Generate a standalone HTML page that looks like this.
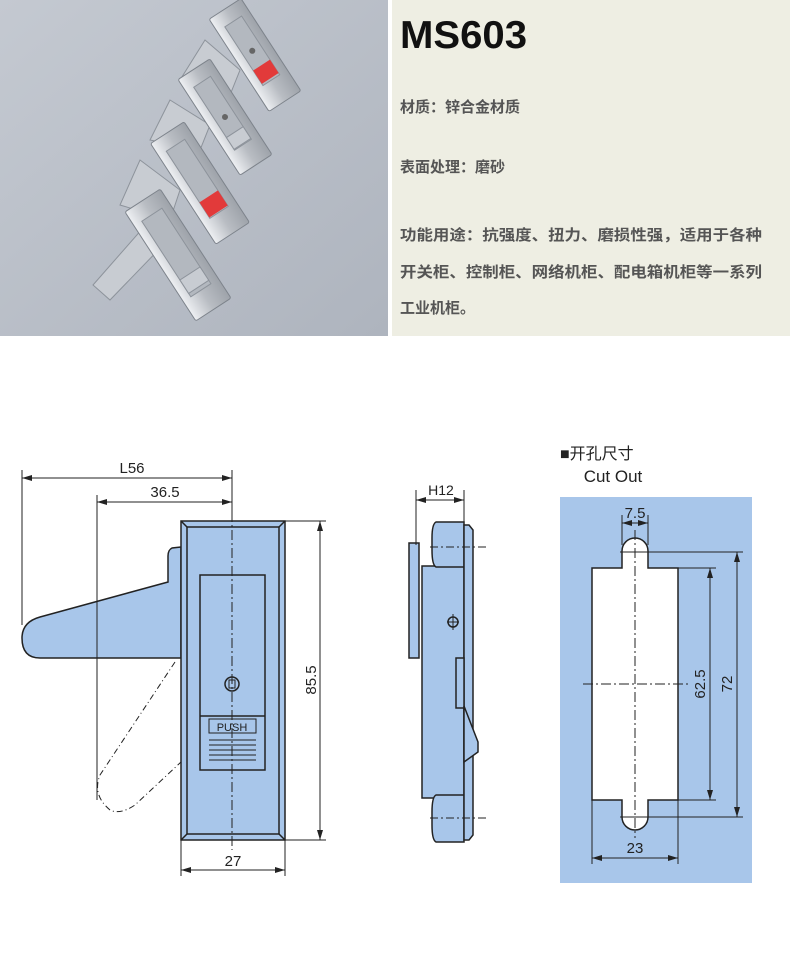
<!DOCTYPE html>
<html><head><meta charset="utf-8"><style>
html,body{margin:0;padding:0;background:#fff}
svg{display:block}
text{font-family:"Liberation Sans","Noto Sans CJK SC",sans-serif}
</style></head><body>
<svg width="790" height="954" viewBox="0 0 790 954" xmlns="http://www.w3.org/2000/svg">
<defs>
<linearGradient id="bg" x1="0" y1="0" x2="1" y2="1">
<stop offset="0" stop-color="#c4c9d1"/><stop offset="1" stop-color="#aeb4be"/></linearGradient>
<linearGradient id="met" x1="0" y1="0" x2="1" y2="0">
<stop offset="0" stop-color="#eef0f3"/><stop offset="0.5" stop-color="#b9bdc3"/><stop offset="1" stop-color="#9ea3aa"/></linearGradient>
<marker id="a" viewBox="0 0 10 6" refX="10" refY="3" markerWidth="10" markerHeight="6" orient="auto-start-reverse"><path d="M0,0L10,3L0,6z" fill="#222"/></marker>
</defs>
<rect x="0" y="0" width="388" height="336" fill="url(#bg)"/>
<g fill="#c8ccd2" stroke="#8d939b" stroke-width="1">
<polygon points="205,40 240,70 230,95 180,80"/>
<polygon points="170,100 210,125 200,150 150,140"/>
<polygon points="140,160 180,190 170,220 120,205"/>
<polygon points="93,285 150,220 168,240 110,300"/>
</g>
<g transform="translate(255,55) rotate(-33)"><rect x="-19" y="-55" width="38" height="110" rx="2" fill="url(#met)" stroke="#7d838b"/><rect x="-10" y="-40" width="20" height="70" fill="#b3b8bf" stroke="#8d939b"/><rect x="-10" y="12" width="20" height="16" fill="#e23a3a"/><circle cx="0" cy="-5" r="3" fill="#666"/></g>
<g transform="translate(225,117) rotate(-33)"><rect x="-19" y="-57" width="38" height="114" rx="2" fill="url(#met)" stroke="#7d838b"/><rect x="-10" y="-42" width="20" height="75" fill="#b3b8bf" stroke="#8d939b"/><rect x="-10" y="18" width="20" height="14" fill="#c8ccd2" stroke="#8d939b"/><circle cx="0" cy="0" r="3" fill="#666"/></g>
<g transform="translate(200,183) rotate(-33)"><rect x="-20" y="-60" width="40" height="120" rx="2" fill="url(#met)" stroke="#7d838b"/><rect x="-11" y="-45" width="22" height="80" fill="#b3b8bf" stroke="#8d939b"/><rect x="-11" y="16" width="22" height="18" fill="#e23a3a"/></g>
<g transform="translate(178,255) rotate(-33)"><rect x="-21" y="-65" width="42" height="130" rx="2" fill="url(#met)" stroke="#7d838b"/><rect x="-12" y="-48" width="24" height="90" fill="#b3b8bf" stroke="#8d939b"/><rect x="-12" y="22" width="24" height="16" fill="#c8ccd2" stroke="#8d939b"/></g>
<rect x="392" y="0" width="398" height="336" fill="#eeeee3"/>
<text x="400" y="48" font-size="39" font-weight="bold" fill="#111" textLength="127" lengthAdjust="spacingAndGlyphs">MS603</text>
<g font-size="15" fill="#555" font-weight="bold">
<text x="400" y="112">材质：锌合金材质</text>
<text x="400" y="172">表面处理：磨砂</text>
<text x="400" y="240" textLength="362" lengthAdjust="spacingAndGlyphs">功能用途：抗强度、扭力、磨损性强，适用于各种</text>
<text x="400" y="277" textLength="362" lengthAdjust="spacingAndGlyphs">开关柜、控制柜、网络机柜、配电箱机柜等一系列</text>
<text x="400" y="313">工业机柜。</text>
</g>
<g stroke="#222" stroke-width="1.5" fill="#a8c6ea">
<path d="M181,547 L172,548 Q168,550 168,556 L168,582 L40,617 Q22,622 22,638 Q22,658 40,658 L181,658 Z"/>
<rect x="181" y="521" width="104" height="319"/>
<rect x="187" y="527" width="92" height="307" fill="none"/>
<path d="M181,521L187,527M285,521L279,527M181,840L187,834M285,840L279,834" fill="none"/>
<rect x="200" y="575" width="65" height="195"/>
<line x1="200" y1="716" x2="265" y2="716"/>
<rect x="209" y="719" width="47" height="14" fill="none" stroke-width="1"/>
<g stroke-width="1"><line x1="209" y1="740" x2="256" y2="740"/><line x1="209" y1="745" x2="256" y2="745"/><line x1="209" y1="750" x2="256" y2="750"/><line x1="209" y1="755" x2="256" y2="755"/><line x1="209" y1="760" x2="256" y2="760"/></g>
<circle cx="232" cy="684" r="7" fill="none"/><rect x="229" y="680" width="6" height="8" fill="none" stroke-width="1"/>
</g>
<text x="232" y="731" font-size="11" text-anchor="middle" font-family="Liberation Serif,serif" fill="#222">PUSH</text>
<path d="M175,662 L100,775 Q92,795 110,810 Q120,815 135,805 L181,762" fill="none" stroke="#222" stroke-dasharray="6,3,1,3"/>
<line x1="232" y1="512" x2="232" y2="850" stroke="#222" stroke-dasharray="10,3,2,3"/>
<g stroke="#222" stroke-width="1" fill="none">
<line x1="22" y1="470" x2="22" y2="625"/><line x1="232" y1="470" x2="232" y2="512"/>
<line x1="22" y1="478" x2="232" y2="478" marker-start="url(#a)" marker-end="url(#a)"/>
<line x1="97" y1="495" x2="97" y2="800"/>
<line x1="97" y1="502" x2="232" y2="502" marker-start="url(#a)" marker-end="url(#a)"/>
<line x1="285" y1="521" x2="326" y2="521"/><line x1="285" y1="840" x2="326" y2="840"/>
<line x1="320" y1="521" x2="320" y2="840" marker-start="url(#a)" marker-end="url(#a)"/>
<line x1="181" y1="840" x2="181" y2="876"/><line x1="285" y1="840" x2="285" y2="876"/>
<line x1="181" y1="870" x2="285" y2="870" marker-start="url(#a)" marker-end="url(#a)"/>
</g>
<g font-size="15" fill="#222" text-anchor="middle">
<text x="132" y="473">L56</text><text x="165" y="497">36.5</text><text x="233" y="866">27</text>
<text transform="translate(316,680) rotate(-90)">85.5</text>
</g>
<g stroke="#222" stroke-width="1.5" fill="#a8c6ea">
<rect x="409" y="543" width="10" height="115"/>
<rect x="422" y="566" width="42" height="232"/>
<path d="M436,522 L464,522 L464,567 L436,567 Q432,565 432,550 L432,538 Q432,524 436,522Z"/>
<path d="M436,795 L464,795 L464,842 L436,842 Q432,840 432,825 L432,812 Q432,797 436,795Z"/>
<path d="M464,525 L469,525 L473,530 L473,835 L469,840 L464,840 Z"/>
<rect x="456" y="658" width="8" height="50"/>
<path d="M464,706 L478,742 L478,752 L464,762Z"/>
<circle cx="453" cy="622" r="5" fill="none"/>
</g>
<g stroke="#222" stroke-width="1" fill="none">
<line x1="447" y1="622" x2="459" y2="622"/><line x1="453" y1="614" x2="453" y2="630"/>
<line x1="430" y1="547" x2="486" y2="547" stroke-dasharray="8,3,2,3"/>
<line x1="430" y1="818" x2="486" y2="818" stroke-dasharray="8,3,2,3"/>
<line x1="416" y1="490" x2="416" y2="545"/><line x1="464" y1="490" x2="464" y2="524"/>
<line x1="416" y1="500" x2="464" y2="500" marker-start="url(#a)" marker-end="url(#a)"/>
</g>
<text x="441" y="495" font-size="14" text-anchor="middle" fill="#222">H12</text>
<text x="560" y="459" font-size="16" fill="#222">■开孔尺寸</text>
<text x="613" y="482" font-size="17" text-anchor="middle" fill="#222">Cut Out</text>
<rect x="560" y="497" width="192" height="386" fill="#a8c6ea"/>
<path d="M592,568 L622,568 L622,551 A13,13 0 0 1 648,551 L648,568 L678,568 L678,800 L648,800 L648,817 A13,13 0 0 1 622,817 L622,800 L592,800 Z" fill="#fff" stroke="#222" stroke-width="1.5"/>
<g stroke="#222" stroke-width="1" fill="none">
<line x1="635" y1="530" x2="635" y2="838" stroke-dasharray="10,3,2,3"/>
<line x1="583" y1="684" x2="688" y2="684" stroke-dasharray="10,3,2,3"/>
<line x1="622" y1="515" x2="622" y2="545"/><line x1="648" y1="515" x2="648" y2="545"/>
<line x1="622" y1="523" x2="648" y2="523" marker-start="url(#a)" marker-end="url(#a)"/>
<line x1="678" y1="568" x2="716" y2="568"/><line x1="678" y1="800" x2="716" y2="800"/>
<line x1="710" y1="568" x2="710" y2="800" marker-start="url(#a)" marker-end="url(#a)"/>
<line x1="620" y1="552" x2="743" y2="552"/><line x1="620" y1="817" x2="743" y2="817"/>
<line x1="737" y1="552" x2="737" y2="817" marker-start="url(#a)" marker-end="url(#a)"/>
<line x1="592" y1="800" x2="592" y2="864"/><line x1="678" y1="800" x2="678" y2="864"/>
<line x1="592" y1="858" x2="678" y2="858" marker-start="url(#a)" marker-end="url(#a)"/>
</g>
<g font-size="15" fill="#222" text-anchor="middle">
<text x="635" y="518">7.5</text><text x="635" y="853">23</text>
<text transform="translate(705,684) rotate(-90)">62.5</text>
<text transform="translate(732,684) rotate(-90)">72</text>
</g>
</svg>
</body></html>
